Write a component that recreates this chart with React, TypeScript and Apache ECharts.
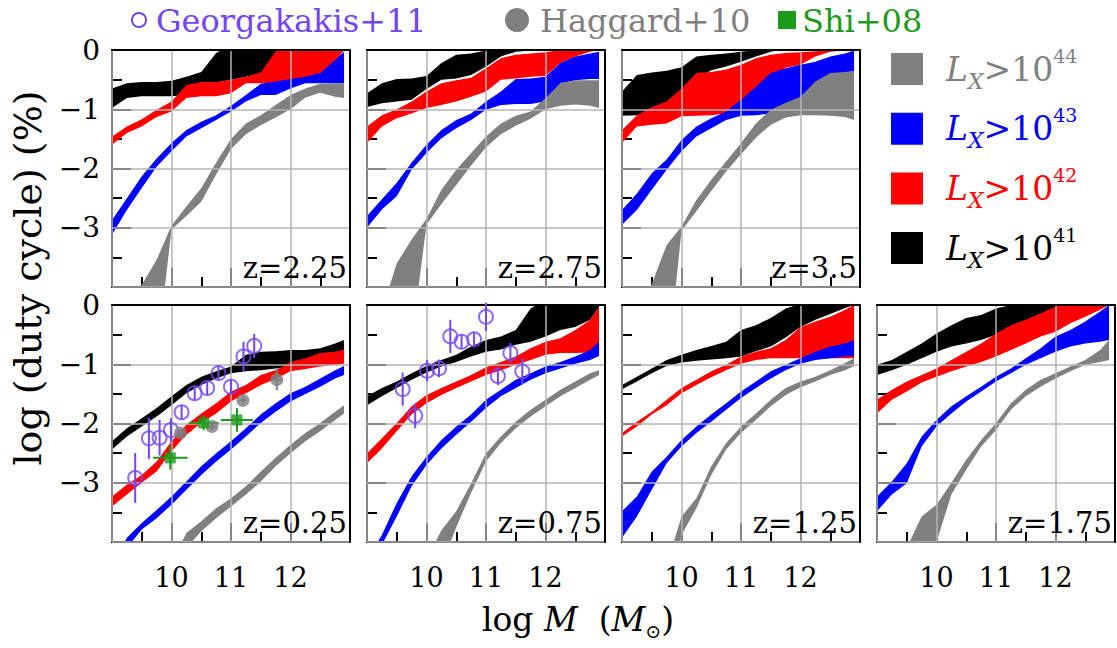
import React, { useEffect, useRef } from 'react';
import * as echarts from 'echarts';

// log halo mass grid shared by every band (log M / M_sun)
const MASS = [9, 9.25, 9.5, 9.75, 10, 10.25, 10.5, 10.75, 11, 11.25, 11.5, 11.75, 12, 12.25, 12.5, 12.75, 12.9];

// Duty-cycle bands (log %, lower and upper edge) per redshift and L_X threshold
// z = 2.25
const z225_41lo = [-0.98, -0.81, -0.78, -0.78, -0.78, -0.76, -0.55, -0.55, -0.5, -0.45, -0.39, -0.22, 0, 0.05, 0.05, 0.05, 0.05];
const z225_41hi = [-0.65, -0.56, -0.54, -0.54, -0.52, -0.45, -0.37, -0.05, 0.1, 0.1, 0.1, 0.1, 0.1, 0.1, 0.1, 0.1, 0.1];
const z225_42lo = [-1.6, -1.4, -1.29, -1.13, -1.04, -0.81, -0.78, -0.78, -0.73, -0.56, -0.56, -0.56, -0.55, -0.5, -0.39, -0.2, 0];
const z225_42hi = [-1.46, -1.29, -1.17, -1.01, -0.87, -0.59, -0.54, -0.54, -0.5, -0.45, -0.38, -0.02, 0.1, 0.1, 0.1, 0.1, 0.1];
const z225_43lo = [-3.12, -2.7, -2.33, -1.97, -1.71, -1.46, -1.32, -1.18, -1.04, -0.87, -0.76, -0.76, -0.65, -0.56, -0.56, -0.56, -0.56];
const z225_43hi = [-2.87, -2.5, -2.13, -1.83, -1.57, -1.35, -1.21, -1.1, -0.94, -0.76, -0.57, -0.53, -0.49, -0.45, -0.39, -0.17, -0.03];
const z225_44lo = [-7, -6, -5.5, -5.2, -3.03, -2.8, -2.56, -2.1, -1.67, -1.42, -1.27, -1.14, -1.0, -0.8, -0.72, -0.79, -0.81];
const z225_44hi = [-6, -5, -3.96, -3.54, -2.96, -2.64, -2.33, -1.9, -1.5, -1.24, -1.1, -0.93, -0.76, -0.65, -0.57, -0.56, -0.56];
// z = 2.75
const z275_41lo = [-0.96, -0.9, -0.87, -0.84, -0.66, -0.5, -0.48, -0.42, -0.28, -0.11, -0.03, -0.01, 0.02, 0.05, 0.05, 0.05, 0.05];
const z275_41hi = [-0.73, -0.56, -0.49, -0.48, -0.44, -0.22, -0.08, -0.06, -0.01, 0.1, 0.1, 0.1, 0.1, 0.1, 0.1, 0.1, 0.1];
const z275_42lo = [-1.57, -1.29, -1.15, -1.07, -0.98, -0.93, -0.87, -0.79, -0.7, -0.5, -0.48, -0.45, -0.44, -0.22, -0.11, -0.03, 0];
const z275_42hi = [-1.29, -1.1, -1.0, -0.87, -0.7, -0.56, -0.51, -0.47, -0.31, -0.14, -0.08, -0.06, -0.04, 0, 0.05, 0.05, 0.05];
const z275_43lo = [-3.0, -2.69, -2.47, -2.02, -1.74, -1.49, -1.32, -1.18, -1.01, -0.93, -0.91, -0.91, -0.87, -0.56, -0.51, -0.49, -0.49];
const z275_43hi = [-2.8, -2.52, -2.24, -1.9, -1.6, -1.35, -1.18, -1.07, -0.87, -0.7, -0.49, -0.48, -0.45, -0.22, -0.11, -0.06, -0.03];
const z275_44lo = [-7, -6, -5.5, -4.9, -2.95, -2.6, -2.28, -1.95, -1.64, -1.42, -1.28, -1.16, -1.0, -0.94, -0.92, -0.94, -0.98];
const z275_44hi = [-5.5, -4.4, -3.6, -3.2, -2.85, -2.36, -2.02, -1.74, -1.46, -1.24, -1.11, -1.04, -0.81, -0.56, -0.51, -0.51, -0.51];
// z = 3.5
const z350_41lo = [-1.11, -1.1, -1.07, -1.05, -0.79, -0.5, -0.34, -0.28, -0.2, -0.11, -0.03, 0.02, 0.05, 0.05, 0.05, 0.05, 0.05];
const z350_41hi = [-0.7, -0.42, -0.38, -0.35, -0.29, -0.11, -0.08, -0.06, -0.03, 0, 0.1, 0.1, 0.1, 0.1, 0.1, 0.1, 0.1];
const z350_42lo = [-1.57, -1.29, -1.26, -1.24, -1.12, -1.11, -1.1, -1.07, -0.9, -0.62, -0.45, -0.3, -0.25, -0.11, -0.03, -0.01, 0];
const z350_42hi = [-1.35, -1.1, -0.96, -0.87, -0.65, -0.39, -0.37, -0.33, -0.25, -0.14, -0.08, -0.05, -0.04, -0.02, 0, 0.05, 0.05];
const z350_43lo = [-2.95, -2.7, -2.36, -2.02, -1.71, -1.46, -1.32, -1.18, -1.11, -1.1, -1.07, -1.01, -0.9, -0.7, -0.51, -0.39, -0.37];
const z350_43hi = [-2.7, -2.42, -2.08, -1.85, -1.52, -1.29, -1.15, -1.04, -0.84, -0.62, -0.39, -0.31, -0.25, -0.2, -0.11, -0.06, -0.01];
const z350_44lo = [-7, -6, -5.5, -5.5, -3.05, -2.72, -2.38, -2.05, -1.76, -1.48, -1.26, -1.14, -1.1, -1.1, -1.11, -1.13, -1.18];
const z350_44hi = [-6, -4.5, -3.95, -3.29, -2.98, -2.53, -2.19, -1.88, -1.57, -1.24, -1.01, -0.89, -0.79, -0.53, -0.39, -0.37, -0.35];
// z = 0.25
const z025_41lo = [-2.44, -2.22, -2.05, -1.88, -1.69, -1.49, -1.35, -1.24, -1.15, -1.12, -1.1, -1.07, -1.05, -1.0, -0.95, -0.9, -0.88];
const z025_41hi = [-2.3, -2.08, -1.91, -1.74, -1.54, -1.35, -1.21, -1.12, -1.04, -0.84, -0.79, -0.78, -0.76, -0.76, -0.73, -0.65, -0.59];
const z025_42lo = [-3.4, -3.2, -3.0, -2.81, -2.47, -2.19, -1.99, -1.83, -1.63, -1.49, -1.35, -1.25, -1.12, -1.08, -1.04, -1.01, -0.99];
const z025_42hi = [-3.23, -3.03, -2.87, -2.64, -2.3, -2.02, -1.83, -1.66, -1.46, -1.35, -1.18, -1.1, -0.96, -0.9, -0.81, -0.79, -0.75];
const z025_43lo = [-4.7, -4.1, -3.79, -3.6, -3.37, -3.12, -2.87, -2.64, -2.44, -2.22, -1.99, -1.8, -1.63, -1.5, -1.38, -1.24, -1.18];
const z025_43hi = [-4.4, -3.93, -3.68, -3.46, -3.23, -2.98, -2.72, -2.5, -2.3, -2.08, -1.85, -1.66, -1.49, -1.38, -1.24, -1.1, -1.03];
const z025_44lo = [-6.5, -6.2, -5.9, -5.5, -4.6, -4.1, -3.82, -3.6, -3.4, -3.2, -2.98, -2.72, -2.5, -2.3, -2.13, -1.94, -1.83];
const z025_44hi = [-6, -5.7, -5.4, -5, -4.35, -3.85, -3.65, -3.43, -3.26, -3.06, -2.81, -2.58, -2.36, -2.16, -1.99, -1.8, -1.69];
// z = 0.75
const z075_41lo = [-1.69, -1.54, -1.4, -1.26, -1.14, -1.04, -0.96, -0.87, -0.79, -0.75, -0.67, -0.62, -0.53, -0.42, -0.37, -0.25, -0.03];
const z075_41hi = [-1.54, -1.4, -1.29, -1.15, -1.03, -0.93, -0.84, -0.7, -0.59, -0.53, -0.42, -0.06, 0.1, 0.1, 0.1, 0.1, 0.1];
const z075_42lo = [-2.67, -2.42, -2.13, -1.85, -1.66, -1.52, -1.4, -1.29, -1.18, -1.1, -1.01, -0.93, -0.84, -0.81, -0.81, -0.8, -0.79];
const z075_42hi = [-2.5, -2.25, -1.99, -1.71, -1.52, -1.4, -1.29, -1.18, -1.05, -0.96, -0.87, -0.73, -0.62, -0.56, -0.42, -0.25, -0.03];
const z075_43lo = [-4.6, -4.05, -3.57, -3.06, -2.7, -2.42, -2.19, -1.97, -1.74, -1.54, -1.4, -1.26, -1.15, -1.07, -0.99, -0.93, -0.86];
const z075_43hi = [-4.3, -3.88, -3.34, -2.89, -2.56, -2.28, -2.05, -1.85, -1.6, -1.43, -1.26, -1.15, -1.04, -0.96, -0.87, -0.76, -0.62];
const z075_44lo = [-6.5, -6.2, -5.9, -5.5, -4.8, -4.4, -3.75, -3.17, -2.64, -2.33, -2.08, -1.88, -1.71, -1.54, -1.4, -1.26, -1.18];
const z075_44hi = [-6, -5.8, -5.5, -5, -4.3, -3.8, -3.48, -3.01, -2.5, -2.22, -1.97, -1.77, -1.6, -1.43, -1.29, -1.15, -1.1];
// z = 1.25
const z125_41lo = [-1.42, -1.29, -1.15, -1.03, -0.97, -0.94, -0.92, -0.9, -0.87, -0.78, -0.7, -0.55, -0.37, -0.25, -0.15, -0.05, 0];
const z125_41hi = [-1.35, -1.21, -1.07, -0.93, -0.84, -0.76, -0.69, -0.62, -0.42, -0.34, -0.22, -0.06, 0.02, 0.1, 0.1, 0.1, 0.1];
const z125_42lo = [-2.22, -2.05, -1.85, -1.69, -1.49, -1.35, -1.22, -1.1, -0.99, -0.93, -0.9, -0.9, -0.9, -0.9, -0.9, -0.9, -0.9];
const z125_42hi = [-2.16, -1.97, -1.8, -1.6, -1.4, -1.26, -1.12, -1.01, -0.87, -0.79, -0.73, -0.59, -0.37, -0.28, -0.2, -0.08, 0];
const z125_43lo = [-3.93, -3.57, -3.12, -2.67, -2.39, -2.16, -1.97, -1.77, -1.57, -1.4, -1.24, -1.1, -0.99, -0.93, -0.9, -0.87, -0.86];
const z125_43hi = [-3.48, -3.23, -2.81, -2.56, -2.28, -2.05, -1.85, -1.66, -1.46, -1.29, -1.12, -1.01, -0.9, -0.79, -0.7, -0.65, -0.59];
const z125_44lo = [-7, -6.5, -6, -5.2, -3.88, -3.43, -2.87, -2.44, -2.16, -1.94, -1.71, -1.52, -1.39, -1.29, -1.18, -1.1, -1.03];
const z125_44hi = [-6, -5.3, -4.8, -4.4, -3.57, -3.26, -2.72, -2.33, -2.05, -1.83, -1.6, -1.4, -1.29, -1.21, -1.1, -0.98, -0.9];
// z = 1.75
const z175_41lo = [-1.18, -1.1, -1.01, -0.9, -0.79, -0.7, -0.65, -0.59, -0.5, -0.42, -0.35, -0.25, -0.1, 0.05, 0.05, 0.05, 0.05];
const z175_41hi = [-1.01, -0.93, -0.79, -0.65, -0.48, -0.34, -0.22, -0.17, -0.06, 0, 0.1, 0.1, 0.1, 0.1, 0.1, 0.1, 0.1];
const z175_42lo = [-1.83, -1.6, -1.46, -1.31, -1.21, -1.12, -1.04, -0.96, -0.87, -0.76, -0.65, -0.53, -0.45, -0.31, -0.2, -0.08, 0];
const z175_42hi = [-1.6, -1.43, -1.29, -1.18, -1.07, -0.93, -0.79, -0.65, -0.48, -0.34, -0.25, -0.14, -0.03, 0.1, 0.1, 0.1, 0.1];
const z175_43lo = [-3.48, -3.2, -3.01, -2.39, -2.05, -1.83, -1.63, -1.46, -1.29, -1.15, -1.01, -0.9, -0.79, -0.7, -0.65, -0.62, -0.59];
const z175_43hi = [-3.23, -2.98, -2.67, -2.22, -1.94, -1.71, -1.54, -1.38, -1.21, -1.07, -0.9, -0.73, -0.53, -0.42, -0.28, -0.11, 0];
const z175_44lo = [-7, -6.5, -5, -4.3, -4.0, -3.2, -2.78, -2.39, -2.11, -1.77, -1.54, -1.38, -1.24, -1.12, -1.01, -0.96, -0.93];
const z175_44hi = [-6, -5.5, -4.1, -3.57, -3.37, -3.0, -2.61, -2.28, -1.99, -1.66, -1.43, -1.26, -1.15, -1.04, -0.93, -0.76, -0.59];

// Observed duty cycles: [log M, log dc, x error, y error]
const georgakakis025 = [
  [9.39, -2.92, 0, 0.42], [9.62, -2.25, 0, 0.35], [9.8, -2.24, 0, 0.3], [9.99, -2.11, 0, 0.2],
  [10.17, -1.81, 0, 0.12], [10.39, -1.49, 0, 0.12], [10.6, -1.4, 0, 0.12], [10.79, -1.15, 0, 0.12],
  [11.0, -1.38, 0, 0.12], [11.21, -0.87, 0, 0.25], [11.39, -0.69, 0, 0.2],
];
const georgakakis075 = [
  [9.6, -1.42, 0, 0.28], [9.81, -1.87, 0, 0.21], [10.01, -1.11, 0, 0.18], [10.21, -1.07, 0, 0.15],
  [10.4, -0.53, 0, 0.28], [10.59, -0.62, 0, 0.12], [10.8, -0.58, 0, 0.12], [11.0, -0.2, 0, 0.24],
  [11.2, -1.2, 0, 0.15], [11.41, -0.81, 0, 0.17], [11.61, -1.12, 0, 0.22],
];
const haggard025 = [
  [10.15, -2.16, 0.07, 0.07], [10.68, -2.05, 0.07, 0.07], [11.2, -1.61, 0.07, 0.07], [11.77, -1.26, 0.1, 0.18],
];
const shi025 = [
  [9.98, -2.58, 0.29, 0.2], [10.54, -1.99, 0.25, 0.12], [11.1, -1.94, 0.27, 0.2],
];

// Axis tick labels
const X_TICK_LABELS = ['10', '11', '12'];
const Y_TICK_LABELS = ['0', '−1', '−2', '−3'];

const THRESHOLDS = ['41', '42', '43', '44'];
const BAND_COLORS = ['#000000', '#ff0000', '#0000ff', '#808080'];
const GEORG = '#7445f0';
const HAGG = '#7f7f7f';
const SHI = '#1c9a1c';
const SERIF = 'DejaVu Serif';

const X_MIN = 9, X_MAX = 13, Y_MIN = -4, Y_MAX = 0;
const PW = 238, PH = 237;

const PANELS = [
  { label: 'z=2.25', left: 112, top: 50, row: 0, col: 0, bands: [[z225_41lo, z225_41hi], [z225_42lo, z225_42hi], [z225_43lo, z225_43hi], [z225_44lo, z225_44hi]] },
  { label: 'z=2.75', left: 367, top: 50, row: 0, col: 1, bands: [[z275_41lo, z275_41hi], [z275_42lo, z275_42hi], [z275_43lo, z275_43hi], [z275_44lo, z275_44hi]] },
  { label: 'z=3.5', left: 622, top: 50, row: 0, col: 2, bands: [[z350_41lo, z350_41hi], [z350_42lo, z350_42hi], [z350_43lo, z350_43hi], [z350_44lo, z350_44hi]] },
  { label: 'z=0.25', left: 112, top: 305, row: 1, col: 0, bands: [[z025_41lo, z025_41hi], [z025_42lo, z025_42hi], [z025_43lo, z025_43hi], [z025_44lo, z025_44hi]] },
  { label: 'z=0.75', left: 367, top: 305, row: 1, col: 1, bands: [[z075_41lo, z075_41hi], [z075_42lo, z075_42hi], [z075_43lo, z075_43hi], [z075_44lo, z075_44hi]] },
  { label: 'z=1.25', left: 622, top: 305, row: 1, col: 2, bands: [[z125_41lo, z125_41hi], [z125_42lo, z125_42hi], [z125_43lo, z125_43hi], [z125_44lo, z125_44hi]] },
  { label: 'z=1.75', left: 877, top: 305, row: 1, col: 3, bands: [[z175_41lo, z175_41hi], [z175_42lo, z175_42hi], [z175_43lo, z175_43hi], [z175_44lo, z175_44hi]] },
];

type Pt = [number, number];

// Sutherland-Hodgman clip of a polygon against a horizontal limit (in data units)
function clipAgainst(pts: Pt[], limit: number, keepAbove: boolean): Pt[] {
  const inside = (p: Pt) => (keepAbove ? p[1] >= limit : p[1] <= limit);
  const cross = (a: Pt, b: Pt): Pt => [a[0] + ((b[0] - a[0]) * (limit - a[1])) / (b[1] - a[1]), limit];
  const out: Pt[] = [];
  for (let i = 0; i < pts.length; i++) {
    const cur = pts[i];
    const prev = pts[(i + pts.length - 1) % pts.length];
    const cIn = inside(cur), pIn = inside(prev);
    if (cIn) {
      if (!pIn) out.push(cross(prev, cur));
      out.push(cur);
    } else if (pIn) {
      out.push(cross(prev, cur));
    }
  }
  return out;
}

function bandPolygon(lo: number[], hi: number[]): Pt[] {
  const pts: Pt[] = MASS.map((m, k) => [m, hi[k]] as Pt);
  for (let k = MASS.length - 1; k >= 0; k--) pts.push([MASS[k], lo[k]]);
  return clipAgainst(clipAgainst(pts, Y_MIN, true), Y_MAX, false);
}

function errorBarSeries(data: number[][], color: string, xi: number, z: number) {
  return {
    type: 'custom',
    xAxisIndex: xi,
    yAxisIndex: xi,
    z,
    silent: true,
    encode: { x: 0, y: 1 },
    data,
    renderItem: (_params: any, api: any) => {
      const x = api.value(0), y = api.value(1), ex = api.value(2), ey = api.value(3);
      const children: any[] = [];
      if (ey > 0) {
        const a = api.coord([x, y - ey]), b = api.coord([x, y + ey]);
        children.push({ type: 'line', shape: { x1: a[0], y1: a[1], x2: b[0], y2: b[1] }, style: { stroke: color, lineWidth: 2 } });
      }
      if (ex > 0) {
        const a = api.coord([x - ex, y]), b = api.coord([x + ex, y]);
        children.push({ type: 'line', shape: { x1: a[0], y1: a[1], x2: b[0], y2: b[1] }, style: { stroke: color, lineWidth: 2 } });
      }
      return { type: 'group', children };
    },
  };
}

function txt(x: number, y: number, text: string, size: number, fill: string, extra: any = {}) {
  return {
    type: 'text', x, y, z: 20,
    style: { text, fontFamily: SERIF, fontSize: size, fill, verticalAlign: 'middle', ...extra },
  };
}

function buildOption() {
  const grid = PANELS.map((p) => ({ left: p.left, top: p.top, width: PW, height: PH, outerBoundsMode: 'none', containLabel: false }));

  const xAxis: any[] = [];
  const yAxis: any[] = [];
  PANELS.forEach((p, i) => {
    xAxis.push({
      type: 'value', gridIndex: i, min: X_MIN, max: X_MAX, interval: 1, position: 'bottom',
      axisLine: { show: true, onZero: false, lineStyle: { color: '#000', width: 2 } },
      axisTick: { show: true, inside: true, length: 19, lineStyle: { color: '#000', width: 2 } },
      minorTick: { show: true, splitNumber: 2, length: 10, lineStyle: { color: '#000', width: 2 } },
      axisLabel: {
        show: p.row === 1, margin: 22, color: '#000', fontFamily: SERIF, fontSize: 27,
        formatter: (v: number) => X_TICK_LABELS[Math.round(v) - 10] ?? '',
      },
      splitLine: { show: false },
    });
    xAxis.push({
      type: 'value', gridIndex: i, min: X_MIN, max: X_MAX, interval: 1, position: 'top', z: 3,
      axisLine: { show: true, onZero: false, lineStyle: { color: '#000', width: 2 } },
      axisTick: { show: false }, axisLabel: { show: false },
      splitLine: { show: true, lineStyle: { color: '#b4b4b4', width: 1.5 } },
    });
    yAxis.push({
      type: 'value', gridIndex: i, min: Y_MIN, max: Y_MAX, interval: 1, position: 'left',
      axisLine: { show: true, onZero: false, lineStyle: { color: '#000', width: 2 } },
      axisTick: { show: true, inside: true, length: 19, lineStyle: { color: '#000', width: 2 } },
      minorTick: { show: true, splitNumber: 2, length: 10, lineStyle: { color: '#000', width: 2 } },
      axisLabel: {
        show: p.col === 0, margin: 12, color: '#000', fontFamily: SERIF, fontSize: 28,
        formatter: (v: number) => Y_TICK_LABELS[-Math.round(v)] ?? '',
      },
      splitLine: { show: false },
    });
    yAxis.push({
      type: 'value', gridIndex: i, min: Y_MIN, max: Y_MAX, interval: 1, position: 'right', z: 3,
      axisLine: { show: true, onZero: false, lineStyle: { color: '#000', width: 2 } },
      axisTick: { show: false }, axisLabel: { show: false },
      splitLine: { show: true, lineStyle: { color: '#b4b4b4', width: 1.5 } },
    });
  });

  const series: any[] = [];
  PANELS.forEach((p, i) => {
    const xi = 2 * i;
    p.bands.forEach(([lo, hi], j) => {
      const poly = bandPolygon(lo, hi);
      series.push({
        type: 'custom',
        name: `${p.label} L>${THRESHOLDS[j]}`,
        xAxisIndex: xi,
        yAxisIndex: xi,
        z: 2,
        silent: true,
        encode: { x: 0, y: 1 },
        data: [[MASS[0], lo[0]]],
        renderItem: (_params: any, api: any) => ({
          type: 'polygon',
          shape: { points: poly.map((pt) => api.coord(pt)) },
          style: { fill: BAND_COLORS[j] },
        }),
      });
    });
  });

  // observational points on the two lowest-redshift panels
  const p025 = 2 * 3, p075 = 2 * 4;
  series.push(errorBarSeries(georgakakis025, GEORG, p025, 4));
  series.push(errorBarSeries(haggard025, HAGG, p025, 4));
  series.push(errorBarSeries(shi025, SHI, p025, 4));
  series.push(errorBarSeries(georgakakis075, GEORG, p075, 4));
  const circle = (data: number[][], xi: number) => ({
    type: 'scatter', xAxisIndex: xi, yAxisIndex: xi, z: 5, silent: true,
    symbol: 'circle', symbolSize: 14,
    itemStyle: { color: 'rgba(0,0,0,0)', borderColor: GEORG, borderWidth: 2 },
    data: data.map((d) => [d[0], d[1]]),
  });
  series.push(circle(georgakakis025, p025));
  series.push(circle(georgakakis075, p075));
  series.push({
    type: 'scatter', xAxisIndex: p025, yAxisIndex: p025, z: 5, silent: true,
    symbol: 'circle', symbolSize: 13, itemStyle: { color: HAGG },
    data: haggard025.map((d) => [d[0], d[1]]),
  });
  series.push({
    type: 'scatter', xAxisIndex: p025, yAxisIndex: p025, z: 5, silent: true,
    symbol: 'rect', symbolSize: 11, itemStyle: { color: SHI },
    data: shi025.map((d) => [d[0], d[1]]),
  });

  const graphic: any[] = [];
  // redshift labels
  PANELS.forEach((p) => {
    graphic.push(txt(p.left + PW - 3, p.top + PH - 19, p.label, 29, '#000', { align: 'right' }));
  });
  // data-set legend along the top
  graphic.push({ type: 'circle', shape: { cx: 139, cy: 20, r: 7 }, style: { fill: 'none', stroke: GEORG, lineWidth: 2 } });
  graphic.push(txt(156, 21, 'Georgakakis+11', 32, GEORG));
  graphic.push({ type: 'circle', shape: { cx: 517, cy: 20, r: 12 }, style: { fill: HAGG } });
  graphic.push(txt(540, 21, 'Haggard+10', 32, HAGG));
  graphic.push({ type: 'rect', shape: { x: 778, y: 11, width: 18, height: 18 }, style: { fill: SHI } });
  graphic.push(txt(802, 21, 'Shi+08', 32, SHI));

  // luminosity-threshold legend
  const order = [3, 2, 1, 0];
  order.forEach((j, k) => {
    const cy = 69 + 59.7 * k;
    const c = BAND_COLORS[j];
    graphic.push({ type: 'rect', shape: { x: 891, y: cy - 16, width: 32, height: 32 }, style: { fill: c } });
    graphic.push({
      type: 'text', x: 946, y: cy,
      style: {
        text: `{L|L}{X|X}{n|>10}{e|${THRESHOLDS[j]}}`,
        fill: c, verticalAlign: 'middle',
        rich: {
          L: { fontFamily: SERIF, fontStyle: 'italic', fontSize: 33, lineHeight: 46, fill: c },
          X: { fontFamily: SERIF, fontStyle: 'italic', fontSize: 22, lineHeight: 20, verticalAlign: 'bottom', fill: c },
          n: { fontFamily: SERIF, fontSize: 33, lineHeight: 46, fill: c },
          e: { fontFamily: SERIF, fontSize: 19, lineHeight: 32, verticalAlign: 'top', fill: c },
        },
      },
    });
  });

  // axis titles
  graphic.push({
    type: 'text', x: 28, y: 278, rotation: Math.PI / 2,
    style: { text: 'log (duty cycle) (%)', fontFamily: SERIF, fontSize: 38, fill: '#000', align: 'center', verticalAlign: 'middle' },
  });
  graphic.push({
    type: 'text', x: 578, y: 619,
    style: {
      text: '{n|log }{i|M}{n|  (}{i|M}{s|⊙}{n|)}',
      align: 'center', verticalAlign: 'middle', fill: '#000',
      rich: {
        n: { fontFamily: SERIF, fontSize: 33, lineHeight: 42, fill: '#000' },
        i: { fontFamily: SERIF, fontStyle: 'italic', fontSize: 33, lineHeight: 42, fill: '#000' },
        s: { fontFamily: SERIF, fontSize: 19, lineHeight: 20, verticalAlign: 'bottom', fill: '#000' },
      },
    },
  });

  return { animation: false, backgroundColor: '#ffffff', grid, xAxis, yAxis, series, graphic };
}

export default function App() {
  const ref = useRef<HTMLDivElement>(null);
  useEffect(() => {
    if (!ref.current) return;
    const chart = echarts.init(ref.current, undefined, { renderer: 'svg' });
    chart.setOption(buildOption() as any);
    return () => chart.dispose();
  }, []);
  return <div ref={ref} style={{ position: 'absolute', left: 0, top: 0, width: 1117, height: 648, background: '#fff' }} />;
}
